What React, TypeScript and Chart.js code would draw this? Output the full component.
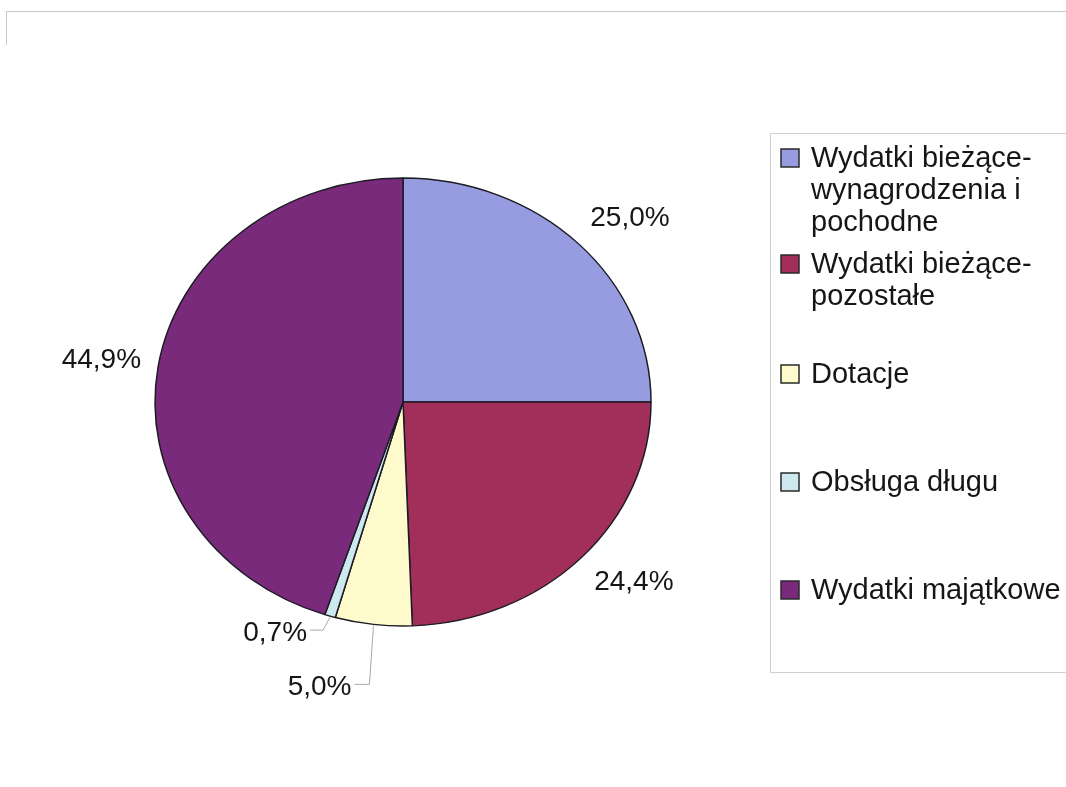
import React, { useEffect, useRef } from "react";
import { Chart, registerables } from "chart.js";

Chart.register(...registerables);

// ---- data ----
const categories = [
  "Wydatki bieżące-wynagrodzenia i pochodne",
  "Wydatki bieżące-pozostałe",
  "Dotacje",
  "Obsługa długu",
  "Wydatki majątkowe",
];
const legendLines = [
  ["Wydatki bieżące-", "wynagrodzenia i", "pochodne"],
  ["Wydatki bieżące-", "pozostałe"],
  ["Dotacje"],
  ["Obsługa długu"],
  ["Wydatki majątkowe"],
];
const shares = [25.0, 24.4, 5.0, 0.7, 44.9];
const sliceColors = ["#979ce0", "#a22f59", "#fffacb", "#cde8ef", "#7a2a7a"];

// ---- style / layout ----
const W = 1066;
const H = 787;
const FONT = '"Liberation Sans", Arial, sans-serif';
const SQUASH = 224 / 248; // vertical squash of the pie (ellipse)
const PIE_CX = 403;
const PIE_CY = 402;
const PIE_R = 248;
const BW = 1.5;
const LABEL_K = 1.07;
// leader-line labels: index -> [elbow dx, elbow dy, horizontal length]
const leaderStyle: Record<number, [number, number, number]> = {
  2: [-4, 60, 15],
  3: [-7, 14, 13],
};
// legend first-line y for each item
const legendRowY = [158, 264, 374, 482, 590];

const fmt = (v: number) => v.toFixed(1).replace(".", ",") + "%";

const ellipsePlugin = {
  id: "ellipse",
  beforeDatasetsDraw(chart: any) {
    const a = chart.getDatasetMeta(0).data[0];
    const ctx = chart.ctx;
    ctx.save();
    ctx.translate(a.x, a.y);
    ctx.scale(1, SQUASH);
    ctx.translate(-a.x, -a.y);
  },
  afterDatasetsDraw(chart: any) {
    chart.ctx.restore();
  },
};

const decorPlugin = {
  id: "decor",
  afterDraw(chart: any) {
    const ctx: CanvasRenderingContext2D = chart.ctx;
    const meta = chart.getDatasetMeta(0);
    ctx.save();

    // outer frame (top line)
    ctx.strokeStyle = "#c4c8d0";
    ctx.lineWidth = 1;
    ctx.beginPath();
    ctx.moveTo(6, 11.5);
    ctx.lineTo(W, 11.5);
    ctx.moveTo(6.5, 11);
    ctx.lineTo(6.5, 45);
    ctx.stroke();

    // data labels
    ctx.font = `28px ${FONT}`;
    ctx.fillStyle = "#161616";
    ctx.textBaseline = "middle";
    meta.data.forEach((arc: any, i: number) => {
      const text = fmt(shares[i]);
      const w = ctx.measureText(text).width;
      const h = 28;
      const th = (arc.startAngle + arc.endAngle) / 2;
      const c = Math.cos(th);
      const s = Math.sin(th);
      const r = arc.outerRadius;
      if (leaderStyle[i]) {
        const [dx, dy, len] = leaderStyle[i];
        const ex = arc.x + r * c;
        const ey = arc.y + r * SQUASH * s;
        const bx = ex + dx;
        const by = ey + dy;
        ctx.strokeStyle = "#a8a8a8";
        ctx.lineWidth = 1;
        ctx.beginPath();
        ctx.moveTo(ex, ey + 1);
        ctx.lineTo(bx, by);
        ctx.lineTo(bx - len, by);
        ctx.stroke();
        ctx.textAlign = "right";
        ctx.fillText(text, bx - len - 3, by + 3);
        return;
      }
      const ax = arc.x + r * LABEL_K * c;
      const ay = arc.y + r * SQUASH * LABEL_K * s;
      const ox = Math.max(-1, Math.min(1, c * 1.4)) * (w / 2);
      const oy = Math.max(-1, Math.min(1, s * 1.4)) * (h / 2);
      ctx.textAlign = "center";
      ctx.fillText(text, ax + ox, ay + oy);
    });

    // legend box
    ctx.strokeStyle = "#cfcfcf";
    ctx.lineWidth = 1;
    ctx.beginPath();
    ctx.moveTo(W + 2, 133.5);
    ctx.lineTo(770.5, 133.5);
    ctx.lineTo(770.5, 672.5);
    ctx.lineTo(W + 2, 672.5);
    ctx.stroke();

    // legend items
    ctx.font = `29px ${FONT}`;
    ctx.textAlign = "left";
    ctx.textBaseline = "middle";
    categories.forEach((_, i) => {
      const y0 = legendRowY[i];
      ctx.fillStyle = sliceColors[i];
      ctx.fillRect(781, y0 - 9, 18, 18);
      ctx.strokeStyle = "#2a2a2a";
      ctx.lineWidth = 1.5;
      ctx.strokeRect(781, y0 - 9, 18, 18);
      ctx.fillStyle = "#161616";
      legendLines[i].forEach((line, j) => {
        ctx.fillText(line, 811, y0 + 1 + j * 32);
      });
    });

    ctx.restore();
  },
};

export default function App() {
  const ref = useRef<HTMLCanvasElement | null>(null);

  useEffect(() => {
    if (!ref.current) return;
    const side = 2 * PIE_R + BW;
    const left = PIE_CX - side / 2;
    const top = PIE_CY - side / 2;
    const chart = new Chart(ref.current, {
      type: "pie",
      data: {
        labels: categories,
        datasets: [
          {
            data: shares,
            backgroundColor: sliceColors,
            borderColor: "#1c1c24",
            borderWidth: BW,
            hoverBorderWidth: BW,
            clip: false as any,
          },
        ],
      },
      options: {
        animation: false,
        responsive: false,
        events: [],
        layout: {
          padding: {
            left,
            top,
            right: W - (left + side),
            bottom: H - (top + side),
          },
        },
        plugins: {
          legend: { display: false },
          tooltip: { enabled: false },
        },
      },
      plugins: [ellipsePlugin, decorPlugin],
    });
    return () => chart.destroy();
  }, []);

  return (
    <div style={{ position: "absolute", left: 0, top: 0, width: W, height: H, background: "#ffffff" }}>
      <canvas ref={ref} width={W} height={H} style={{ display: "block" }} />
    </div>
  );
}
